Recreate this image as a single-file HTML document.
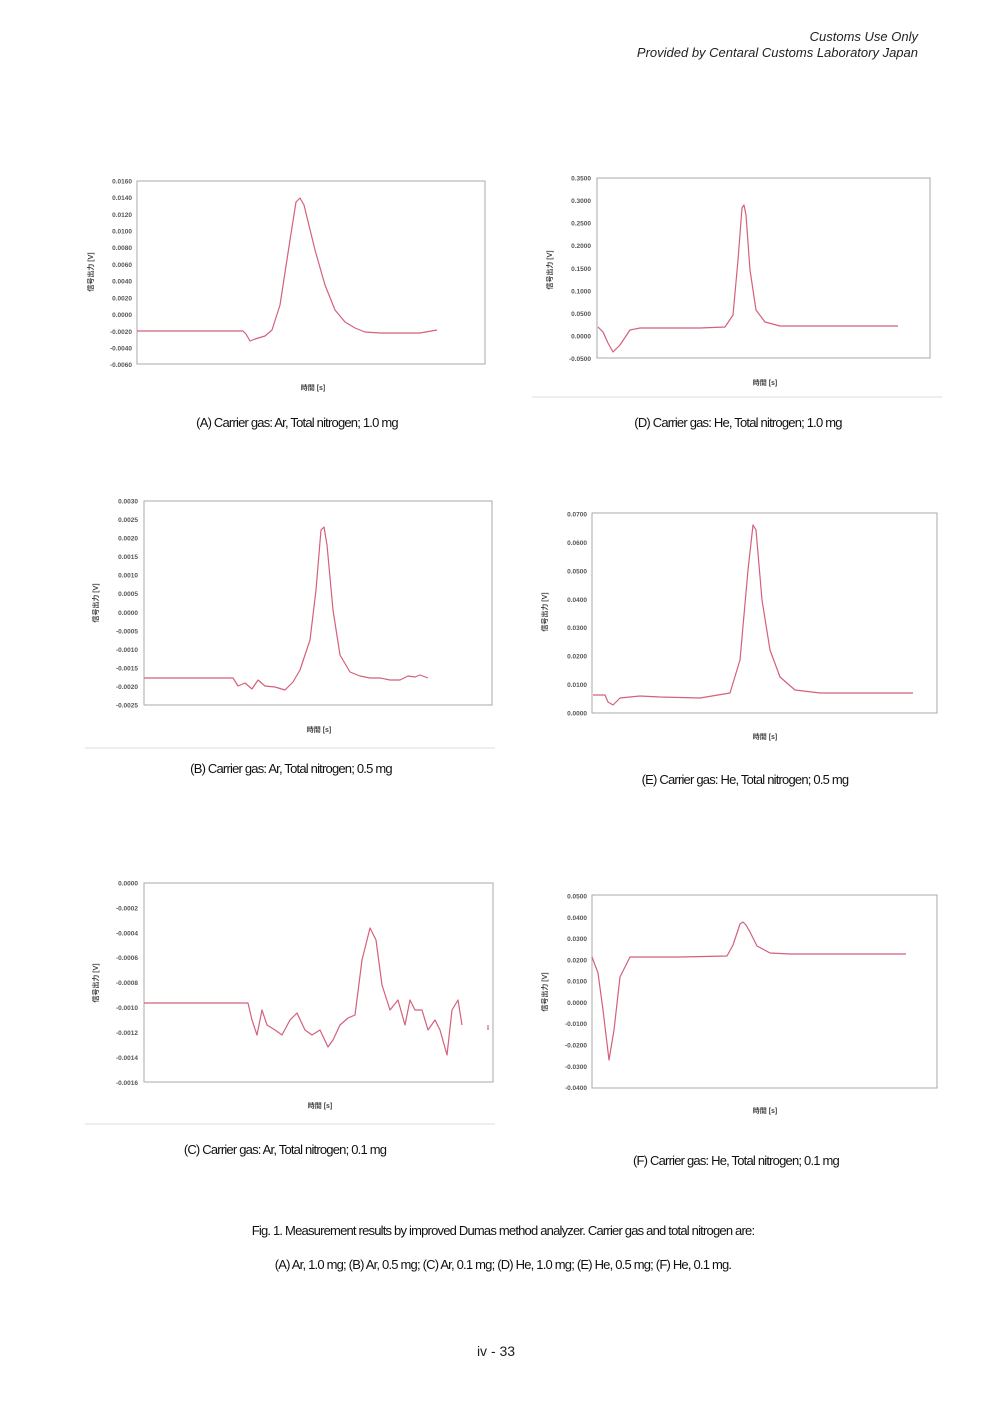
<!DOCTYPE html>
<html><head><meta charset="utf-8"><style>
html,body{margin:0;padding:0;background:#fff;}
svg{display:block;}
.t{font-family:"Liberation Sans","Noto Sans CJK JP",sans-serif;font-size:6.5px;fill:#555;font-weight:bold;text-anchor:end;}
.ax{font-family:"Liberation Sans","Noto Sans CJK JP",sans-serif;font-size:7px;fill:#444;font-weight:bold;text-anchor:middle;}
.cap{font-family:"Liberation Sans",sans-serif;font-size:13px;fill:#111;text-anchor:middle;letter-spacing:-0.8px;}
.hd{font-family:"Liberation Sans",sans-serif;font-size:13px;fill:#222;font-style:italic;text-anchor:end;}
.box{fill:#fff;stroke:#aaa;stroke-width:1;}
.c{fill:none;stroke:#d4607a;stroke-width:1.2;stroke-linejoin:round;}
.ln{stroke:#ddd;stroke-width:1;}
</style></head><body>
<svg width="992" height="1403" viewBox="0 0 992 1403" xmlns="http://www.w3.org/2000/svg">
<text class="hd" x="918" y="41">Customs Use Only</text>
<text class="hd" x="918" y="57">Provided by Centaral Customs Laboratory Japan</text>

<!-- A -->
<rect class="box" x="137" y="181" width="348" height="183"/>
<g class="t">
<text x="132" y="183.5">0.0160</text><text x="132" y="200">0.0140</text><text x="132" y="217">0.0120</text><text x="132" y="233.5">0.0100</text><text x="132" y="250">0.0080</text><text x="132" y="267">0.0060</text><text x="132" y="283.5">0.0040</text><text x="132" y="300.5">0.0020</text><text x="132" y="317">0.0000</text><text x="132" y="334">-0.0020</text><text x="132" y="350.5">-0.0040</text><text x="132" y="367">-0.0060</text>
</g>
<text class="ax" transform="translate(93,272) rotate(-90)">信号出力 [V]</text>
<text class="ax" x="313" y="390">時間 [s]</text>
<path class="c" d="M137,331 L243,331 L246,334 L250,341 L255,339 L265,336 L272,330 L280,305 L290,240 L296,202 L300,198 L304,205 L315,250 L325,285 L335,310 L345,322 L355,328 L365,332 L380,333 L400,333 L420,333 L437,330"/>
<text class="cap" x="297" y="427">(A) Carrier gas: Ar, Total nitrogen; 1.0 mg</text>

<!-- D -->
<rect class="box" x="597" y="178" width="333" height="180"/>
<g class="t">
<text x="591" y="180.5">0.3500</text><text x="591" y="203">0.3000</text><text x="591" y="225.5">0.2500</text><text x="591" y="248">0.2000</text><text x="591" y="271">0.1500</text><text x="591" y="293.5">0.1000</text><text x="591" y="316">0.0500</text><text x="591" y="338.5">0.0000</text><text x="591" y="361">-0.0500</text>
</g>
<text class="ax" transform="translate(552,270) rotate(-90)">信号出力 [V]</text>
<text class="ax" x="765" y="385">時間 [s]</text>
<line class="ln" x1="532" y1="397" x2="942" y2="397"/>
<path class="c" d="M598,327 L603,332 L608,343 L613,352 L620,345 L630,330 L640,328 L700,328 L725,327 L733,315 L738,260 L742,208 L744,205 L746,215 L750,270 L756,310 L765,322 L780,326 L898,326"/>
<text class="cap" x="738" y="427">(D) Carrier gas: He, Total nitrogen; 1.0 mg</text>

<!-- B -->
<rect class="box" x="144" y="501" width="348" height="204"/>
<g class="t">
<text x="138" y="503.5">0.0030</text><text x="138" y="522">0.0025</text><text x="138" y="540.5">0.0020</text><text x="138" y="559">0.0015</text><text x="138" y="577.5">0.0010</text><text x="138" y="596">0.0005</text><text x="138" y="615">0.0000</text><text x="138" y="633.5">-0.0005</text><text x="138" y="652">-0.0010</text><text x="138" y="670.5">-0.0015</text><text x="138" y="689">-0.0020</text><text x="138" y="707.5">-0.0025</text>
</g>
<text class="ax" transform="translate(98,603) rotate(-90)">信号出力 [V]</text>
<text class="ax" x="319" y="732">時間 [s]</text>
<line class="ln" x1="85" y1="748" x2="495" y2="748"/>
<path class="c" d="M144,678 L233,678 L238,686 L245,683 L252,689 L258,680 L265,686 L275,687 L285,690 L293,682 L300,670 L310,640 L316,590 L321,530 L324,527 L327,545 L333,610 L340,655 L350,672 L360,676 L370,678 L380,678 L390,680 L400,680 L408,676 L415,677 L420,675 L428,678"/>
<text class="cap" x="291" y="773">(B) Carrier gas: Ar, Total nitrogen; 0.5 mg</text>

<!-- E -->
<rect class="box" x="592" y="513" width="345" height="200"/>
<g class="t">
<text x="587" y="516.5">0.0700</text><text x="587" y="545">0.0600</text><text x="587" y="573.5">0.0500</text><text x="587" y="602">0.0400</text><text x="587" y="630">0.0300</text><text x="587" y="658.5">0.0200</text><text x="587" y="687">0.0100</text><text x="587" y="715.5">0.0000</text>
</g>
<text class="ax" transform="translate(547,612) rotate(-90)">信号出力 [V]</text>
<text class="ax" x="765" y="739">時間 [s]</text>
<path class="c" d="M593,695 L605,695 L608,702 L613,705 L620,698 L640,696 L660,697 L700,698 L730,693 L740,660 L748,570 L753,525 L756,530 L762,600 L770,650 L780,677 L795,690 L820,693 L913,693"/>
<text class="cap" x="745" y="784">(E) Carrier gas: He, Total nitrogen; 0.5 mg</text>

<!-- C -->
<rect class="box" x="144" y="883" width="349" height="199"/>
<g class="t">
<text x="138" y="885.5">0.0000</text><text x="138" y="910.5">-0.0002</text><text x="138" y="935.5">-0.0004</text><text x="138" y="960">-0.0006</text><text x="138" y="985">-0.0008</text><text x="138" y="1010">-0.0010</text><text x="138" y="1035">-0.0012</text><text x="138" y="1060">-0.0014</text><text x="138" y="1085">-0.0016</text>
</g>
<text class="ax" transform="translate(98,983) rotate(-90)">信号出力 [V]</text>
<text class="ax" x="320" y="1108">時間 [s]</text>
<line class="ln" x1="85" y1="1124" x2="495" y2="1124"/>
<path class="c" d="M144,1003 L248,1003 L252,1020 L257,1035 L262,1010 L267,1025 L275,1030 L282,1035 L290,1020 L297,1013 L305,1030 L312,1035 L320,1030 L328,1047 L333,1040 L340,1025 L348,1018 L355,1015 L362,960 L370,928 L376,940 L382,985 L390,1010 L398,1000 L405,1025 L410,1000 L415,1010 L422,1010 L428,1030 L435,1020 L440,1030 L447,1055 L452,1010 L458,1000 L462,1025"/>
<line class="c" x1="488" y1="1025" x2="488" y2="1030"/>
<text class="cap" x="285" y="1154">(C) Carrier gas: Ar, Total nitrogen; 0.1 mg</text>

<!-- F -->
<rect class="box" x="592" y="895" width="345" height="193"/>
<g class="t">
<text x="587" y="898.5">0.0500</text><text x="587" y="920">0.0400</text><text x="587" y="941">0.0300</text><text x="587" y="962.5">0.0200</text><text x="587" y="983.5">0.0100</text><text x="587" y="1005">0.0000</text><text x="587" y="1026">-0.0100</text><text x="587" y="1047.5">-0.0200</text><text x="587" y="1069">-0.0300</text><text x="587" y="1090">-0.0400</text>
</g>
<text class="ax" transform="translate(547,992) rotate(-90)">信号出力 [V]</text>
<text class="ax" x="765" y="1113">時間 [s]</text>
<path class="c" d="M592,957 L598,973 L603,1010 L609,1060 L614,1030 L620,977 L630,957 L680,957 L727,956 L733,945 L740,924 L743,922 L746,925 L750,932 L757,946 L770,953 L790,954 L906,954"/>
<text class="cap" x="736" y="1165">(F) Carrier gas: He, Total nitrogen; 0.1 mg</text>

<text class="cap" x="503" y="1235">Fig. 1. Measurement results by improved Dumas method analyzer. Carrier gas and total nitrogen are:</text>
<text class="cap" x="503" y="1269">(A) Ar, 1.0 mg; (B) Ar, 0.5 mg; (C) Ar, 0.1 mg; (D) He, 1.0 mg; (E) He, 0.5 mg; (F) He, 0.1 mg.</text>
<text x="496" y="1356" style="font-family:'Liberation Sans',sans-serif;font-size:14px;fill:#222;text-anchor:middle">iv - 33</text>
</svg>
</body></html>
